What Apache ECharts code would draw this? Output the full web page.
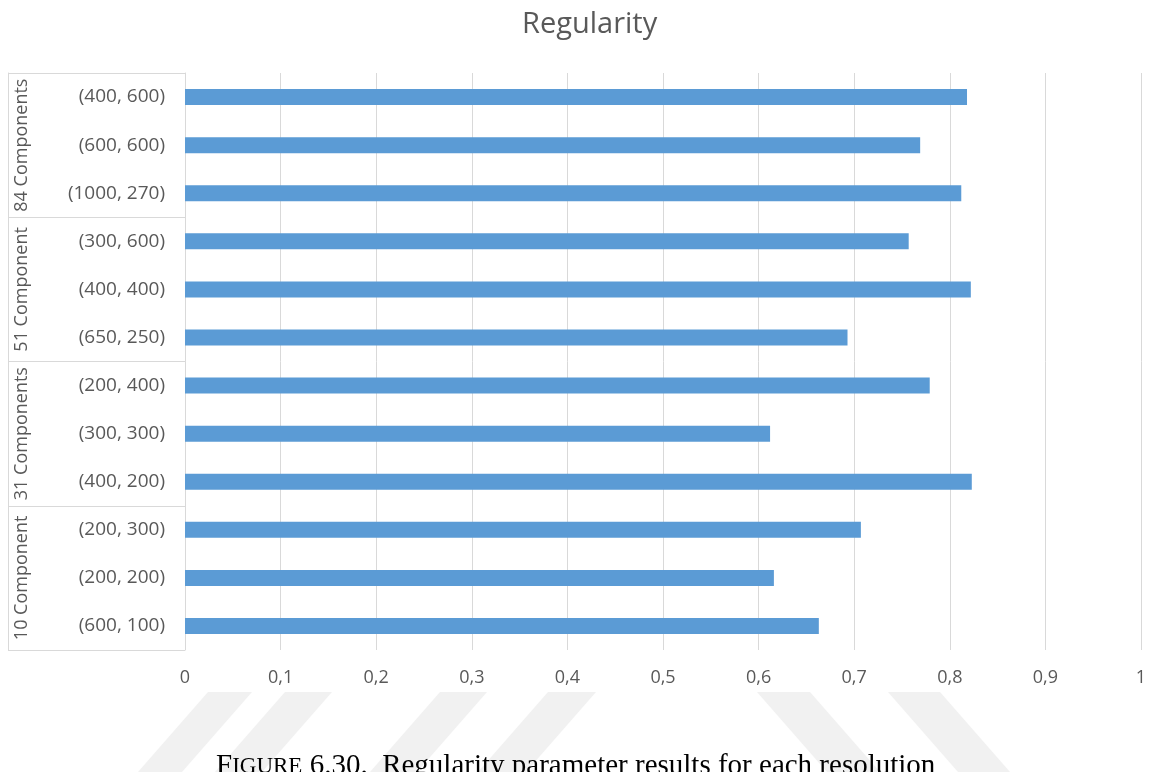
<!DOCTYPE html>
<html>
<head>
<meta charset="utf-8">
<script src="https://cdn.jsdelivr.net/npm/echarts@6/dist/echarts.min.js"></script>
<style>
html,body{margin:0;padding:0;background:#fff;}
#main{width:1152px;height:772px;}
</style>
</head>
<body>
<div id="main"></div>
<script>
// Data (top to bottom as shown)
const categories = ['(400, 600)','(600, 600)','(1000, 270)','(300, 600)','(400, 400)','(650, 250)','(200, 400)','(300, 300)','(400, 200)','(200, 300)','(200, 200)','(600, 100)'];
const groups = ['84 Components','51 Component','31 Components','10 Component'];
const regularity = [0.818,0.769,0.812,0.757,0.822,0.693,0.779,0.612,0.823,0.707,0.616,0.663];
const chartTitle = 'Regularity';

const chart = echarts.init(document.getElementById('main'), null, {renderer:'canvas'});
const FONT = '"Open Sans", sans-serif';
const TXT = '#595959';
const LINE = '#d9d9d9';

function stripe(x1, x2, x3, x4, yTop, yBot){
  return {type:'polygon', z:-10, silent:true,
    shape:{points:[[x1,yTop],[x2,yTop],[x4,yBot],[x3,yBot]]},
    style:{fill:'#f1f1f1'}};
}

chart.setOption({
  animation:false,
  backgroundColor:'#ffffff',
  title:{text:chartTitle,left:517,top:5,
    textStyle:{fontFamily:FONT,fontSize:29,fontWeight:'normal',color:TXT}},
  grid:{left:185,right:11,top:73,bottom:122,containLabel:false},
  xAxis:{type:'value',min:0,max:1,interval:0.1,
    axisLine:{show:false},axisTick:{show:false},
    splitLine:{show:true,lineStyle:{color:LINE,width:1}},
    axisLabel:{color:TXT,fontFamily:FONT,fontSize:18,margin:19,
      formatter:v=>String(Math.round(v*10)/10).replace('.',',')}},
  yAxis:[
    {type:'category',data:categories,inverse:true,
      axisLine:{show:true,lineStyle:{color:LINE,width:1}},
      axisTick:{show:false},
      axisLabel:{color:TXT,fontFamily:FONT,fontSize:19,margin:20}},
    {type:'category',data:groups,inverse:true,position:'left',offset:177,
      axisLine:{show:true,lineStyle:{color:LINE,width:1}},
      axisTick:{show:true,inside:true,interval:0,length:177,lineStyle:{color:LINE,width:1}},
      splitLine:{show:false},
      axisLabel:{inside:true,interval:0,rotate:90,margin:5,color:TXT,fontFamily:FONT,fontSize:18}}
  ],
  series:[{type:'bar',yAxisIndex:0,data:regularity,barWidth:16,
    itemStyle:{color:'#5b9bd5'}}],
  graphic:[
    stripe(208,252,138,182,692,772),
    stripe(285,332,215,262,692,772),
    stripe(440,487,370,417,692,772),
    stripe(548,596,478,526,692,772),
    stripe(757,810,827,880,692,772),
    stripe(888,940,958,1010,692,772),
    {type:'text',z:10,silent:true,left:216,top:752,
      style:{text:'{a|F}{b|IGURE}{a| 6.30.  Regularity parameter results for each resolution}',
        rich:{a:{fontFamily:'"Liberation Serif", serif',fontSize:29,fill:'#000'},
              b:{fontFamily:'"Liberation Serif", serif',fontSize:23,fill:'#000'}},
        fill:'#000'}}
  ]
});
</script>
</body>
</html>
